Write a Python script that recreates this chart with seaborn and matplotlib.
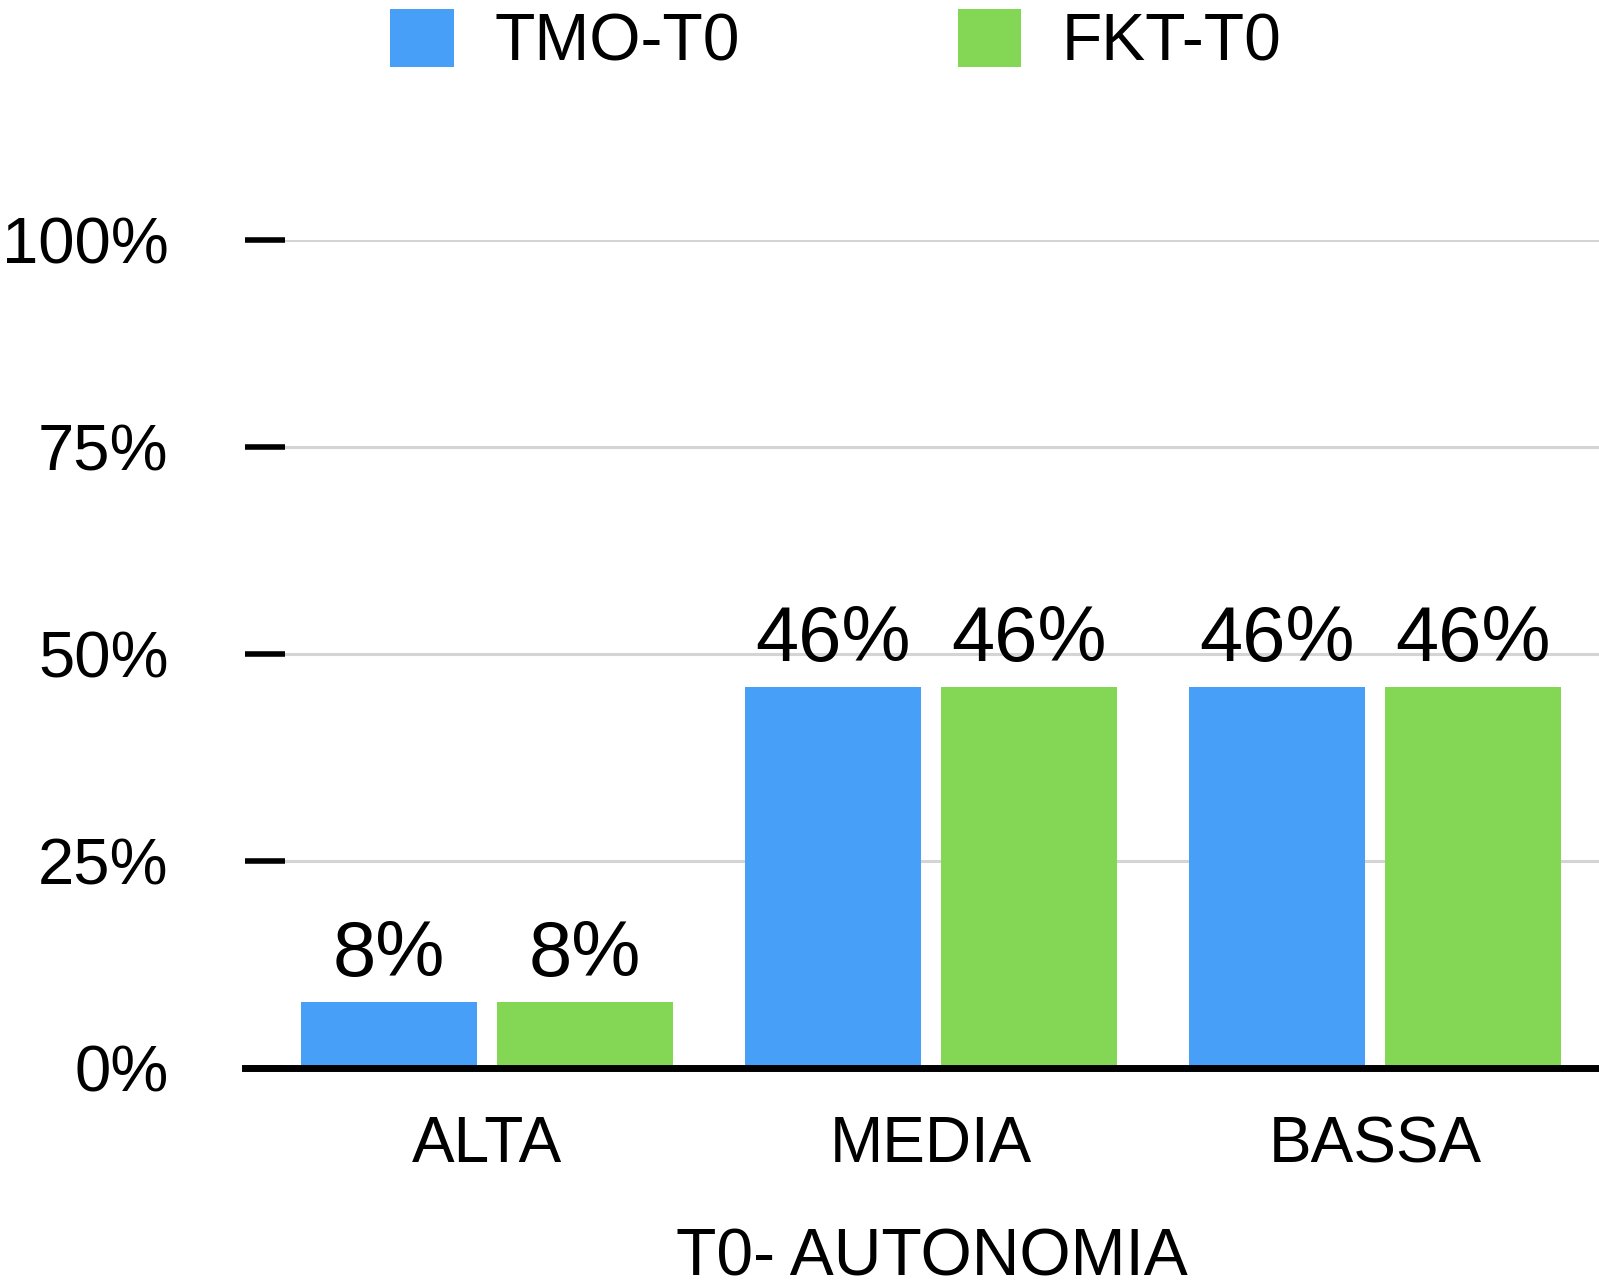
import matplotlib
matplotlib.use("Agg")
import matplotlib.pyplot as plt
import seaborn as sns
import pandas as pd
from matplotlib.patches import Patch
from matplotlib.ticker import FuncFormatter

# Data
categories = ["ALTA", "MEDIA", "BASSA"]
series_names = ["TMO-T0", "FKT-T0"]
tmo_t0 = [8, 46, 46]
fkt_t0 = [8, 46, 46]
y_ticks = [0, 25, 50, 75, 100]
x_title = "T0- AUTONOMIA"
colors = ["#489ff7", "#83d755"]

df = pd.DataFrame({
    "livello": categories * 2,
    "serie": [series_names[0]] * len(categories) + [series_names[1]] * len(categories),
    "valore": tmo_t0 + fkt_t0,
})

sns.set_theme(style="white")
plt.rcParams["font.family"] = ["Liberation Sans", "DejaVu Sans"]
plt.rcParams["text.color"] = "black"

W, H = 1599, 1287
fig = plt.figure(figsize=(W / 100, H / 100), dpi=100)
ax = fig.add_axes([245 / W, (H - 1068) / H, 1 - 245 / W, (1068 - 240) / H])

sns.barplot(data=df, x="livello", y="valore", hue="serie", palette=colors,
            width=0.884, gap=0.104, saturation=1, linewidth=0,
            ax=ax, legend=False)

ax.set_ylim(0, 100)
ax.set_xlim(-0.545, 2.505)
ax.set_yticks(y_ticks)
ax.yaxis.set_major_formatter(FuncFormatter(lambda v, _: f"{v:.0f}%"))

# Grid and spines
ax.set_axisbelow(True)
ax.yaxis.grid(True, color="#d4d4d4", linewidth=2.2)
ax.xaxis.grid(False)
for side in ["left", "right", "top"]:
    ax.spines[side].set_visible(False)
ax.spines["bottom"].set_color("black")
ax.spines["bottom"].set_linewidth(5)
ax.spines["bottom"].set_zorder(5)

ax.tick_params(axis="y", left=True, direction="in", length=28.8, width=4.0,
               color="black", pad=55, labelsize=47, labelcolor="black")
ax.tick_params(axis="x", bottom=False, length=0, pad=34, labelsize=46,
               labelcolor="black")

ax.set_ylabel("")
ax.set_xlabel(x_title, fontsize=47.5, labelpad=38, color="black")
ax.xaxis.label.set_x(0.507)

# Value labels
for container in ax.containers:
    ax.bar_label(container, fmt="{:.0f}%", padding=7, fontsize=56, color="black")

# Legend
handles = [Patch(facecolor=c, edgecolor="none", label=n) for c, n in zip(colors, series_names)]
fig.legend(handles=handles, loc="center", bbox_to_anchor=(836 / W, 1 - 42 / H),
           ncol=2, frameon=False, fontsize=47.5, labelcolor="black",
           handlelength=0.96, handleheight=0.96,
           handletextpad=0.62, columnspacing=3.3, borderpad=0, borderaxespad=0)

fig.savefig("out.png", dpi=100)
